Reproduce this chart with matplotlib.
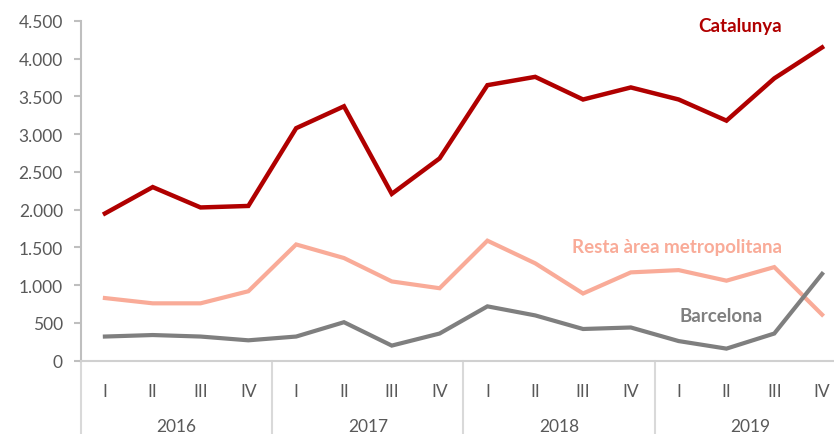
import matplotlib
matplotlib.use("Agg")
import matplotlib.pyplot as plt
import matplotlib.transforms as mtransforms

quarters = ["I", "II", "III", "IV"] * 4
years = ["2016", "2017", "2018", "2019"]
catalunya = [1950, 2300, 2030, 2050, 3080, 3370, 2210, 2680,
             3650, 3760, 3460, 3620, 3460, 3180, 3740, 4150]
resta = [830, 760, 760, 920, 1540, 1360, 1050, 960,
         1590, 1290, 890, 1170, 1200, 1060, 1240, 610]
barcelona = [320, 340, 320, 270, 320, 510, 200, 360,
             720, 600, 420, 440, 260, 160, 360, 1150]
yticks = [0, 500, 1000, 1500, 2000, 2500, 3000, 3500, 4000, 4500]
ytick_labels = ["0", "500", "1.000", "1.500", "2.000", "2.500",
                "3.000", "3.500", "4.000", "4.500"]

plt.rcParams['font.family'] = ['Lato', 'DejaVu Sans']

W, H = 834, 435
fig = plt.figure(figsize=(W / 100, H / 100), dpi=100)
left, right = 81, 846
top, bottom = 22, 361.7
ax = fig.add_axes([left / W, (H - bottom) / H, (right - left) / W, (bottom - top) / H])

x = list(range(len(quarters)))
c_cat = "#B00000"
c_res = "#F9AB98"
c_bcn = "#7F7F7F"
ax.plot(x, catalunya, color=c_cat, lw=3.2, solid_joinstyle="miter", zorder=3)
ax.plot(x, resta, color=c_res, lw=3.0, solid_joinstyle="miter", zorder=3)
ax.plot(x, barcelona, color=c_bcn, lw=3.0, solid_joinstyle="miter", zorder=3)

ax.set_xlim(-0.5, 15.5)
ax.set_ylim(0, 4500)

for s in ["top", "right"]:
    ax.spines[s].set_visible(False)
ax.spines["left"].set_color("#BFBFBF")
ax.spines["left"].set_linewidth(1.5)
ax.spines["bottom"].set_color("#D0D0D0")
ax.spines["bottom"].set_linewidth(1.5)

ax.set_yticks(yticks)
ax.set_yticklabels(ytick_labels)
ax.tick_params(axis="y", length=5, width=1.5, color="#BFBFBF", pad=8,
               labelsize=12.5, labelcolor="#595959")
ax.set_xticks(x)
ax.set_xticklabels(quarters)
ax.tick_params(axis="x", length=0, pad=16, labelsize=12.5, labelcolor="#595959")

trans = mtransforms.blended_transform_factory(ax.transData, ax.transAxes)
ph = bottom - top
for b in [-0.5, 3.5, 7.5, 11.5]:
    ax.plot([b, b], [0, -0.3], transform=trans, color="#D9D9D9", lw=1.5,
            clip_on=False, zorder=1)
for i, yr in enumerate(years):
    ax.text(4 * i + 1.5, -(427 - bottom) / ph, yr, transform=trans,
            ha="center", va="center", fontsize=12.5, color="#595959")

ax.text(740, H - 27, "Catalunya", transform=None, fontsize=13.5, fontweight="bold",
        color=c_cat, ha="center", va="center")
ax.text(677, H - 248, "Resta àrea metropolitana", transform=None, fontsize=13.5,
        fontweight="bold", color=c_res, ha="center", va="center")
ax.text(721, H - 317, "Barcelona", transform=None, fontsize=13.5,
        fontweight="bold", color=c_bcn, ha="center", va="center")

fig.savefig("out.png", dpi=100)
